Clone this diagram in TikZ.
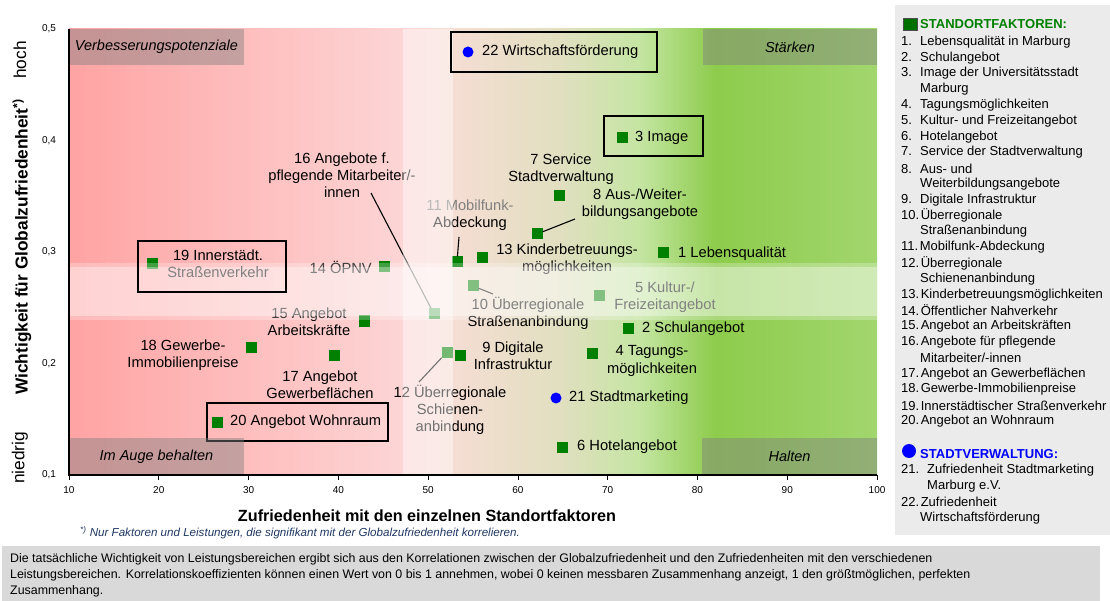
\documentclass[tikz,border=0pt]{standalone}
\usepackage{fontspec}
\setmainfont{Liberation Sans}
\definecolor{ptgreen}{HTML}{008000}
\definecolor{ptblue}{HTML}{0000FF}
\definecolor{legbg}{HTML}{EBEBEB}
\definecolor{notebg}{HTML}{D9D9D9}
\definecolor{footblue}{HTML}{1F3864}
\definecolor{gA}{HTML}{FFA3A3}
\definecolor{gB}{HTML}{FDD5D5}
\definecolor{gC}{HTML}{F5DDD3}
\definecolor{gD}{HTML}{E1DFC0}
\definecolor{gE}{HTML}{C4E5A2}
\definecolor{gF}{HTML}{8DCC4C}
\definecolor{gG}{HTML}{A2D66E}
\definecolor{legsq}{HTML}{007000}
\newcommand{\lblfont}{\fontsize{14.7}{17.2}\selectfont}
\newcommand{\legfont}{\fontsize{13}{15.8}\selectfont}
\newcommand{\li}[2]{\makebox[19pt][l]{#1}#2}
\newcommand{\lj}[2]{#1\hspace{1.5pt}#2}
\newcommand{\lc}[1]{\hspace*{19pt}#1}
\tikzset{
  sq/.style={rectangle, fill=ptgreen, minimum size=11pt, inner sep=0pt},
  bdot/.style={circle, fill=ptblue, minimum size=11pt, inner sep=0pt},
  lbl/.style={font=\lblfont, inner sep=0pt, align=center},
  conn/.style={draw=black, line width=1.1pt},
  hbox/.style={draw=black, line width=1.7pt},
  quadbox/.style={fill=black!50, fill opacity=0.45, text opacity=1, inner sep=0pt, font=\fontsize{14.5}{16}\selectfont\itshape},
  tickl/.style={font=\fontsize{10}{12}\selectfont, inner sep=0pt},
  legt/.style={font=\legfont, anchor=west, inner sep=0pt},
  notet/.style={font=\fontsize{12.4}{14}\selectfont, anchor=base west, inner sep=0pt},
}
\begin{document}
\begin{tikzpicture}[x=1pt,y=-1pt]
\useasboundingbox (0,0) rectangle (1110,601);
\fill[white] (0,0) rectangle (1110,601);
% background gradient
\shade[left color=gA,right color=gB] (69,29) rectangle (403.5,475);
\shade[left color=gB,right color=gC] (403,29) rectangle (453.5,475);
\shade[left color=gC,right color=gD] (453,29) rectangle (560.5,475);
\shade[left color=gD,right color=gE] (560,29) rectangle (640.5,475);
\shade[left color=gE,right color=gF] (640,29) rectangle (715.5,475);
\shade[left color=gF,right color=gG] (715,29) rectangle (877,475);
% data points
\node[sq] (p1) at (663,253) {};
\node[sq] (p2) at (628,328) {};
\node[sq] (p3) at (622,138) {};
\node[sq] (p4) at (592,353) {};
\node[sq] (p5) at (599,296) {};
\node[sq] (p6) at (562,447) {};
\node[sq] (p7) at (559,196) {};
\node[sq] (p8) at (537,234) {};
\node[sq] (p9) at (460,355) {};
\node[sq] (p10) at (473,286) {};
\node[sq] (p11) at (457,262) {};
\node[sq] (p12) at (447,352) {};
\node[sq] (p13) at (482,258) {};
\node[sq] (p14) at (384,267) {};
\node[sq] (p15) at (364,321) {};
\node[sq] (p16) at (434,314) {};
\node[sq] (p17) at (334,355) {};
\node[sq] (p18) at (251,347) {};
\node[sq] (p19) at (152,264) {};
\node[sq] (p20) at (217,422) {};
\node[bdot] (p21) at (556,398) {};
\node[bdot] (p22) at (468,52) {};
% labels
\node[lbl, anchor=west] (l1) at (678,254) {1 Lebensqualität};
\node[lbl, anchor=west] (l2) at (642,329) {2 Schulangebot};
\node[lbl, anchor=west] (l3) at (635,138) {3 Image};
\node[lbl] (l4) at (652,361) {4 Tagungs-\\möglichkeiten};
\node[lbl] (l5) at (665,297.5) {5 Kultur-/\\Freizeitangebot};
\node[lbl, anchor=west] (l6) at (577,447) {6 Hotelangebot};
\node[lbl] (l7) at (561,169.5) {7 Service\\Stadtverwaltung};
\node[lbl] (l8) at (640,204.5) {8 Aus-/Weiter-\\bildungsangebote};
\node[lbl] (l9) at (513,356) {9 Digitale\\Infrastruktur};
\node[lbl] (l10) at (528,313.5) {10 Überregionale\\Straßenanbindung};
\node[lbl] (l11) at (470,215.5) {\textcolor{black!50}{11 Mobilfunk-}\\Abdeckung};
\node[lbl] (l12) at (450,410) {12 Überregionale\\Schienen-\\anbindung};
\node[lbl] (l13) at (567,259.5) {13 Kinderbetreuungs-\\möglichkeiten};
\node[lbl, anchor=east] (l14) at (372,267) {14 ÖPNV};
\node[lbl] (l15) at (309,321.5) {15 Angebot\\Arbeitskräfte};
\node[lbl] (l16) at (342,175.5) {16 Angebote f.\\pflegende Mitarbeiter/-\\innen};
\node[lbl] (l17) at (320,384.5) {17 Angebot\\Gewerbeflächen};
\node[lbl] (l18) at (183,355) {18 Gewerbe-\\Immobilienpreise};
\node[lbl] (l19) at (218,264) {19 Innerstädt.\\Straßenverkehr};
\node[lbl, anchor=west] (l20) at (230,422) {20 Angebot Wohnraum};
\node[lbl, anchor=west] (l21) at (569,398) {21 Stadtmarketing};
\node[lbl, anchor=west] (l22) at (482,52) {22 Wirtschaftsförderung};
% connectors
\coordinate (c8) at (575,219);
\coordinate (c10) at (493,294);
\coordinate (c11) at (459,237);
\coordinate (c12) at (419,382);
\coordinate (c16) at (371,193);
\draw[conn] (c8) -- (p8);
\draw[conn] (c10) -- (p10);
\draw[conn] (c11) -- (p11);
\draw[conn] (c12) -- (p12);
\draw[conn] (c16) -- (p16);
% translucent bands
\fill[white, opacity=0.45] (403,29) rectangle (453,475);
\fill[white, opacity=0.25] (69,263) rectangle (877,320);
\fill[white, opacity=0.35] (69,267) rectangle (877,316);
% highlight boxes
\draw[hbox] (451,32) rectangle (657,72);
\draw[hbox] (604,116) rectangle (703,156);
\draw[hbox] (138,241) rectangle (286,292);
\draw[hbox] (207,403) rectangle (388,441);
% quadrant boxes
\node[quadbox, minimum width=175pt, minimum height=36pt] (qa) at (156.5,47) {Verbesserungspotenziale};
\node[quadbox, minimum width=174pt, minimum height=36pt] (qb) at (790,47) {Stärken};
\node[quadbox, minimum width=175pt, minimum height=37pt] (qc) at (156.5,456.5) {Im Auge behalten};
\node[quadbox, minimum width=175pt, minimum height=37pt] (qd) at (789.5,456.5) {Halten};
% axes
\draw[line width=1.1pt] (69,29) -- (69,475) -- (877,475);
\foreach \v in {10,20,...,100} {
  \draw[line width=0.8pt] ({69+(\v-10)*8.978},475) -- ++(0,5);
  \node[tickl] (tx\v) at ({69+(\v-10)*8.978},490) {\v};
}
\foreach \k/\t in {1/{0,1},2/{0,2},3/{0,3},4/{0,4},5/{0,5}} {
  \node[tickl] (ty\k) at (49,{475-(\k-1)*111.5}) {\t};
}
\node[font=\fontsize{16.2}{18}\selectfont\bfseries, inner sep=0pt] (xt) at (427,516) {Zufriedenheit mit den einzelnen Standortfaktoren};
\node[font=\fontsize{11.6}{13}\selectfont\itshape, text=footblue, anchor=west, inner sep=0pt] (fn) at (80,533) {\textsuperscript{*)} Nur Faktoren und Leistungen, die signifikant mit der Globalzufriedenheit korrelieren.};
\node[font=\fontsize{17.3}{19}\selectfont\bfseries, rotate=90, inner sep=0pt] (yt) at (22,247) {Wichtigkeit für Globalzufriedenheit\textsuperscript{*)}};
\node[font=\fontsize{17.3}{19}\selectfont, rotate=90, inner sep=0pt] (yh) at (20,60) {hoch};
\node[font=\fontsize{17.3}{19}\selectfont, rotate=90, inner sep=0pt] (yn) at (20,458) {niedrig};
% legend panel
\fill[legbg] (895,5) rectangle (1110,535);
\node[draw=black!70, fill=legsq, minimum width=14pt, minimum height=12pt, inner sep=0pt] (lgsq) at (910,24) {};
\node[legt, font=\legfont\bfseries, text=ptgreen] (lgt1) at (920,24) {STANDORTFAKTOREN:};
\foreach \t [count=\k from 0] in {
  {\li{1.}{Lebensqualität in Marburg}},
  {\li{2.}{Schulangebot}},
  {\li{3.}{Image der Universitätsstadt}},
  {\lc{Marburg}},
  {\li{4.}{Tagungsmöglichkeiten}},
  {\li{5.}{Kultur- und Freizeitangebot}},
  {\li{6.}{Hotelangebot}},
  {\li{7.}{Service der Stadtverwaltung}},
  {\li{8.}{Aus- und}},
  {\lc{Weiterbildungsangebote}},
  {\li{9.}{Digitale Infrastruktur}},
  {\lj{10.}{Überregionale}},
  {\lc{Straßenanbindung}},
  {\lj{11.}{Mobilfunk-Abdeckung}},
  {\lj{12.}{Überregionale}},
  {\lc{Schienenanbindung}},
  {\lj{13.}{Kinderbetreuungsmöglichkeiten}},
  {\lj{14.}{Öffentlicher Nahverkehr}},
  {\lj{15.}{Angebot an Arbeitskräften}},
  {\lj{16.}{Angebote für pflegende}},
  {\lc{Mitarbeiter/-innen}},
  {\lj{17.}{Angebot an Gewerbeflächen}},
  {\lj{18.}{Gewerbe-Immobilienpreise}},
  {\lj{19.}{Innerstädtischer Straßenverkehr}},
  {\lj{20.}{Angebot an Wohnraum}}} {
  \node[legt] (lg\k) at (901,{42+15.8*\k}) {\t};
}
\node[circle, fill=ptblue, minimum size=14pt, inner sep=0pt] (lgdot) at (909,451) {};
\node[legt, font=\legfont\bfseries, text=ptblue] (lgt2) at (920,454) {STADTVERWALTUNG:};
\node[legt] (lg21) at (901,470) {\makebox[26pt][l]{21.}Zufriedenheit Stadtmarketing};
\node[legt] (lg21b) at (901,486) {\hspace*{26pt}Marburg e.V.};
\node[legt] (lg22) at (901,502) {\lj{22.}{Zufriedenheit}};
\node[legt] (lg22b) at (901,518) {\lc{Wirtschaftsförderung}};
% bottom note
\fill[notebg] (2,546) rectangle (1100,601);
\node[notet] (n1) at (10,562) {Die tatsächliche Wichtigkeit von Leistungsbereichen ergibt sich aus den Korrelationen zwischen der Globalzufriedenheit und den Zufriedenheiten mit den verschiedenen};
\node[notet] (n2) at (10,578) {Leistungsbereichen. Korrelationskoeffizienten können einen Wert von 0 bis 1 annehmen, wobei 0 keinen messbaren Zusammenhang anzeigt, 1 den größtmöglichen, perfekten};
\node[notet] (n3) at (10,594) {Zusammenhang.};
\end{tikzpicture}
\end{document}
